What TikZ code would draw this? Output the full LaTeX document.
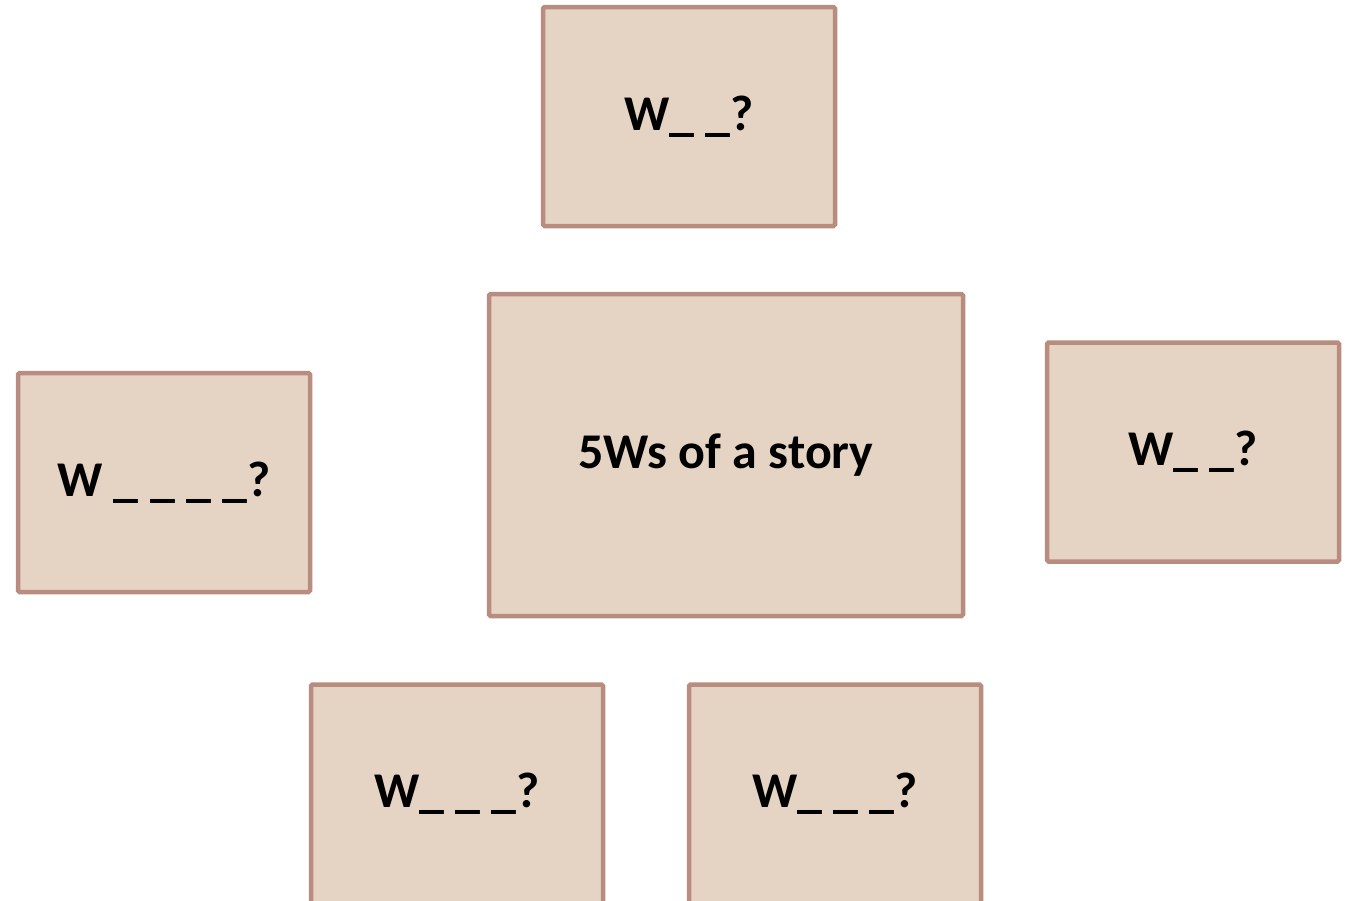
\documentclass[tikz,border=0pt]{standalone}
\usepackage{fontspec}
\setmainfont{Carlito}
\begin{document}
\begin{tikzpicture}[x=1pt,y=-1pt,
  card/.style={draw=cardline, fill=cardfill, line width=4.5pt, rounded corners=1.5pt,
    minimum width=292pt, minimum height=219pt, inner sep=0pt,
    font=\fontsize{50}{60}\selectfont\bfseries, text=black},
  bigcard/.style={card, minimum width=474pt, minimum height=322pt}]
\definecolor{cardfill}{RGB}{229,212,196}
\definecolor{cardline}{RGB}{185,140,128}
\clip (0,0) rectangle (1348,900);
\useasboundingbox (0,0) rectangle (1348,900);
\node[card] (top) at (689,116.5) {\raisebox{-3pt}{W\_ \_?}};
\node[bigcard] (center) at (726,455) {\raisebox{-3pt}{5Ws of a story}};
\node[card] (right) at (1193,452) {\raisebox{-3pt}{W\_ \_?}};
\node[card] (left) at (164,482.5) {\raisebox{-3pt}{W \_ \_ \_ \_?}};
\node[card] (botleft) at (457,794) {\raisebox{-3pt}{W\_ \_ \_?}};
\node[card] (botright) at (835,794) {\raisebox{-3pt}{W\_ \_ \_?}};
\end{tikzpicture}
\end{document}
